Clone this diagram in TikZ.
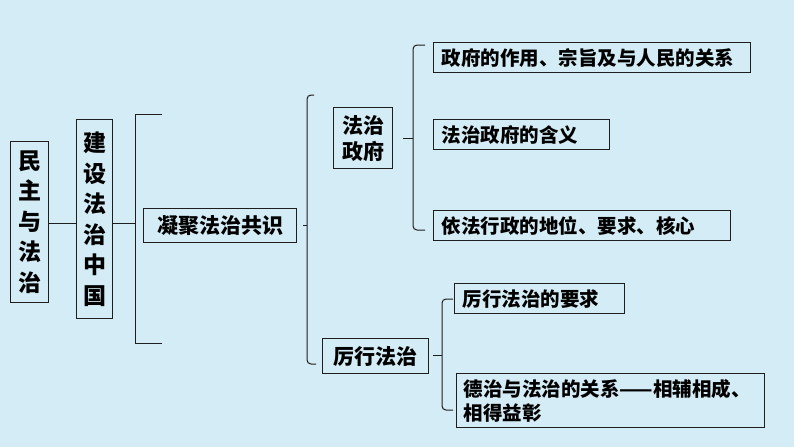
\documentclass[tikz,border=0pt]{standalone}
\usepackage{fontspec}
\setmainfont{Noto Sans CJK SC}
\usetikzlibrary{positioning}
\definecolor{bgblue}{RGB}{212,236,245}
\definecolor{ink}{RGB}{30,30,30}

\begin{document}
\begin{tikzpicture}[
      x=1pt, y=-1pt,
      box/.style={draw=ink, line width=1.4pt, inner sep=0pt, anchor=north west,
                  text=black},
      vbox/.style={box, align=center, font=\fontsize{23}{30.5}\selectfont\bfseries},
      mbox/.style={box, align=center, font=\fontsize{21}{26}\selectfont\bfseries},
      leaf/.style={box, align=left, inner xsep=8pt, font=\fontsize{19.5}{24}\selectfont\bfseries},
      link/.style={draw=ink, line width=1pt},
      brace/.style={link, rounded corners=4pt},
    ]
    \useasboundingbox[fill=bgblue] (0,0) rectangle (794,447);

    % left column
    \node[vbox, minimum width=38, minimum height=161] (minzhu)  at (10,141) {民\\主\\与\\法\\治};
    \node[vbox, minimum width=36, minimum height=199] (jianshe) at (76,119) {建\\设\\法\\治\\中\\国};
    \node[mbox, minimum width=153, minimum height=34] (ningju)  at (143,208) {凝聚法治共识};

    % middle
    \node[mbox, minimum width=59, minimum height=61]  (fazhi)   at (333,107) {法治\\政府};
    \node[mbox, minimum width=106, minimum height=35] (lixing)  at (322,338) {厉行法治};

    % leaves
    \node[leaf, text width=301, minimum height=30] (zuoyong) at (433,42)  {政府的作用、宗旨及与人民的关系};
    \node[leaf, text width=160, minimum height=30] (hanyi)   at (433,119) {法治政府的含义};
    \node[leaf, text width=281, minimum height=30] (yifa)    at (433,210) {依法行政的地位、要求、核心};
    \node[leaf, text width=154, minimum height=30] (yaoqiu)  at (454,283) {厉行法治的要求};
    \node[leaf, text width=294, minimum height=54, inner xsep=7pt] (dezhi) at (456,373)
         {德治与法治的关系——相辅相成、\\相得益彰};

    % bracket points
    \coordinate (mid) at (0,223);
    \coordinate (b1)  at (135,223);
    \coordinate (b1t) at (162,114);
    \coordinate (b1b) at (162,343);
    \coordinate (b2)  at (307,225);
    \coordinate (b2t) at (314,95);
    \coordinate (b2b) at (316,364);
    \coordinate (b3)  at (413,138);
    \coordinate (b3t) at (425,45);
    \coordinate (b3b) at (425,230);
    \coordinate (b4)  at (442,355);
    \coordinate (b4t) at (453,299);
    \coordinate (b4b) at (453,410);

    \draw[link] (minzhu.east |- mid) -- (jianshe.west |- mid);
    \draw[link] (jianshe.east |- mid) -- (b1);
    \draw[link] (b1t) -- (b1t -| b1) -- (b1b -| b1) -- (b1b);

    \draw[link]  ([xshift=6pt]ningju.east |- b2) -- (b2);
    \draw[brace] (b2t) -- (b2t -| b2) -- (b2b -| b2) -- (b2b);

    \draw[link]  ([xshift=10pt]fazhi.east |- b3) -- (b3);
    \draw[brace] (b3t) -- (b3t -| b3) -- (b3b -| b3) -- (b3b);

    \draw[link]  ([xshift=4pt]lixing.east |- b4) -- (b4);
    \draw[brace] (b4t) -- (b4t -| b4) -- (b4b -| b4) -- (b4b);
  \end{tikzpicture}
\end{document}
